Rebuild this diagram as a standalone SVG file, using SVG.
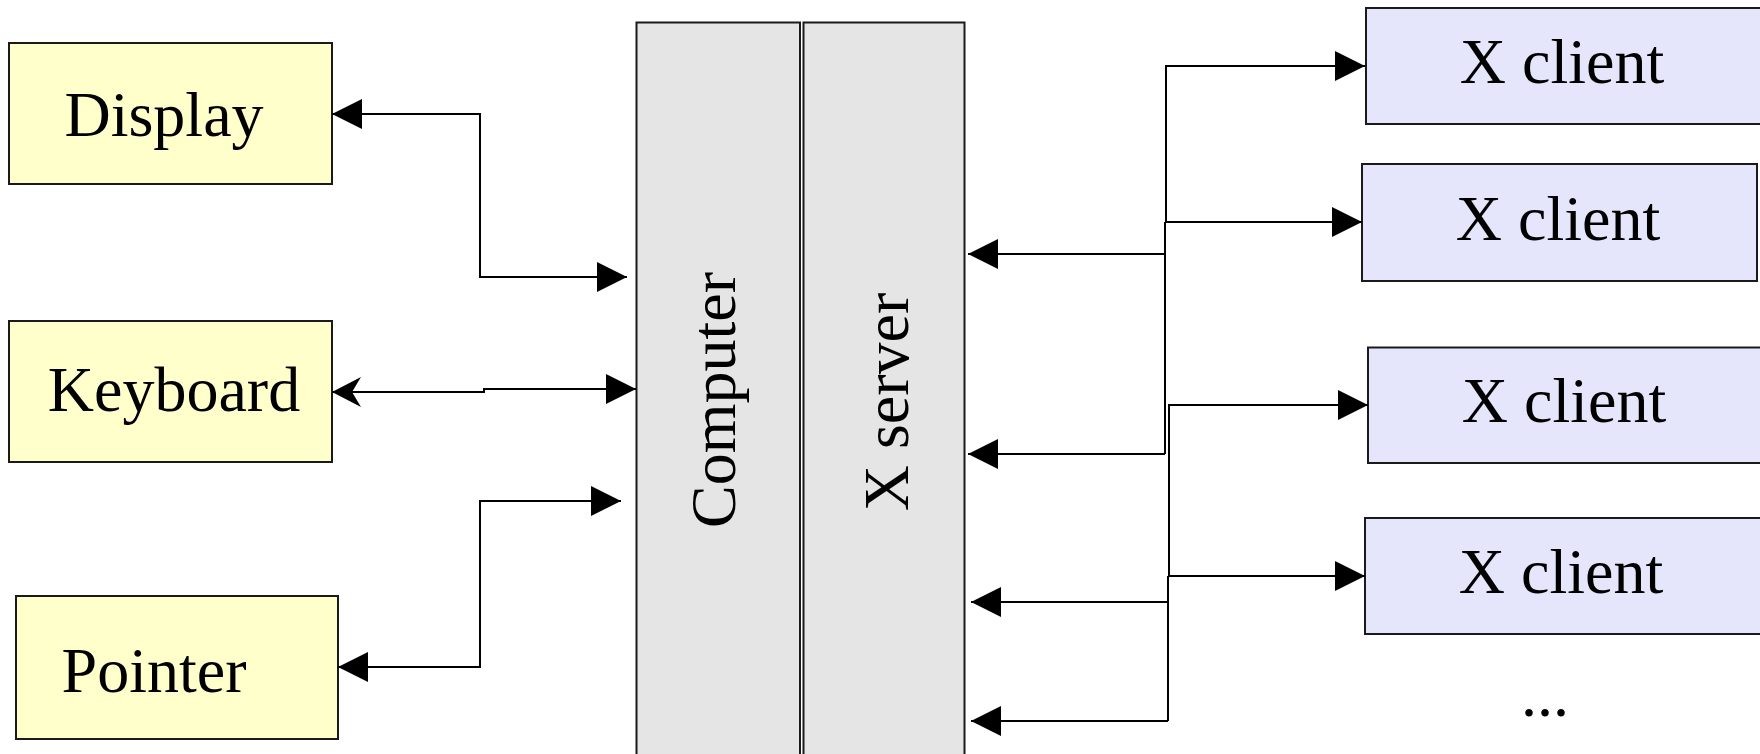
<svg xmlns="http://www.w3.org/2000/svg" width="1760" height="754" viewBox="0 0 1760 754">
<style>
.box{stroke:#1a1a1a;stroke-width:2}
.dev{fill:#ffffcc}
.srv{fill:#e5e5e5}
.cli{fill:#e5e5fb}
.lbl{font-family:"Liberation Serif","Times New Roman",serif;font-size:64px;fill:#000;text-anchor:middle}
.ln{fill:none;stroke:#000;stroke-width:2}
</style>
<defs>
<marker id="tri" markerUnits="userSpaceOnUse" markerWidth="30" markerHeight="30" refX="30" refY="15" orient="auto-start-reverse" viewBox="0 0 30 30">
<path d="M0,0 L30,15 L0,30 z" fill="#000"/>
</marker>
<marker id="barb" markerUnits="userSpaceOnUse" markerWidth="30" markerHeight="30" refX="29" refY="15" orient="auto-start-reverse" viewBox="0 0 30 30">
<path d="M0,0 L29,15 L0,30 L9,15 z" fill="#000"/>
</marker>
</defs>
<rect width="1760" height="754" fill="#fff"/>

<g id="display"><rect class="box dev" x="9" y="43" width="323" height="141"/><text class="lbl" x="164" y="136">Display</text></g>
<g id="keyboard"><rect class="box dev" x="9" y="321" width="323" height="141"/><text class="lbl" x="174" y="411">Keyboard</text></g>
<g id="pointer"><rect class="box dev" x="16" y="596" width="322" height="143"/><text class="lbl" x="154" y="692">Pointer</text></g>

<g id="computer"><rect class="box srv" x="636.5" y="22.5" width="163.5" height="760"/><text class="lbl" transform="translate(735,400) rotate(-90)">Computer</text></g>
<g id="xserver"><rect class="box srv" x="803.5" y="22.5" width="161" height="760"/><text class="lbl" transform="translate(908,402) rotate(-90)">X server</text></g>

<g id="client1"><rect class="box cli" x="1366" y="8" width="400" height="116"/><text class="lbl" x="1562" y="83">X client</text></g>
<g id="client2"><rect class="box cli" x="1362" y="164" width="395" height="117"/><text class="lbl" x="1558" y="240">X client</text></g>
<g id="client3"><rect class="box cli" x="1368" y="347.5" width="400" height="115.5"/><text class="lbl" x="1564" y="422">X client</text></g>
<g id="client4"><rect class="box cli" x="1365" y="518" width="400" height="116"/><text class="lbl" x="1561" y="593">X client</text></g>
<g id="more"><text class="lbl" x="1545" y="716">...</text></g>

<g id="connectors">
<path class="ln" d="M332,114 H480 V277 H627" marker-start="url(#tri)" marker-end="url(#tri)"/>
<path class="ln" d="M332,392 H484 V389 H636" marker-start="url(#barb)" marker-end="url(#tri)"/>
<path class="ln" d="M338,667 H480 V501 H621" marker-start="url(#tri)" marker-end="url(#tri)"/>

<path class="ln" d="M1166,222 V66 H1365" marker-end="url(#tri)"/>
<path class="ln" d="M1165,222 H1362" marker-end="url(#tri)"/>
<path class="ln" d="M1165,222 V454"/>
<path class="ln" d="M1165,254 H968" marker-end="url(#tri)"/>
<path class="ln" d="M1165,454 H968" marker-end="url(#tri)"/>

<path class="ln" d="M1169,576 V405 H1368" marker-end="url(#tri)"/>
<path class="ln" d="M1168,576 H1365" marker-end="url(#tri)"/>
<path class="ln" d="M1168,576 V721"/>
<path class="ln" d="M1168,602 H971" marker-end="url(#tri)"/>
<path class="ln" d="M1168,721 H971" marker-end="url(#tri)"/>
</g>
</svg>
